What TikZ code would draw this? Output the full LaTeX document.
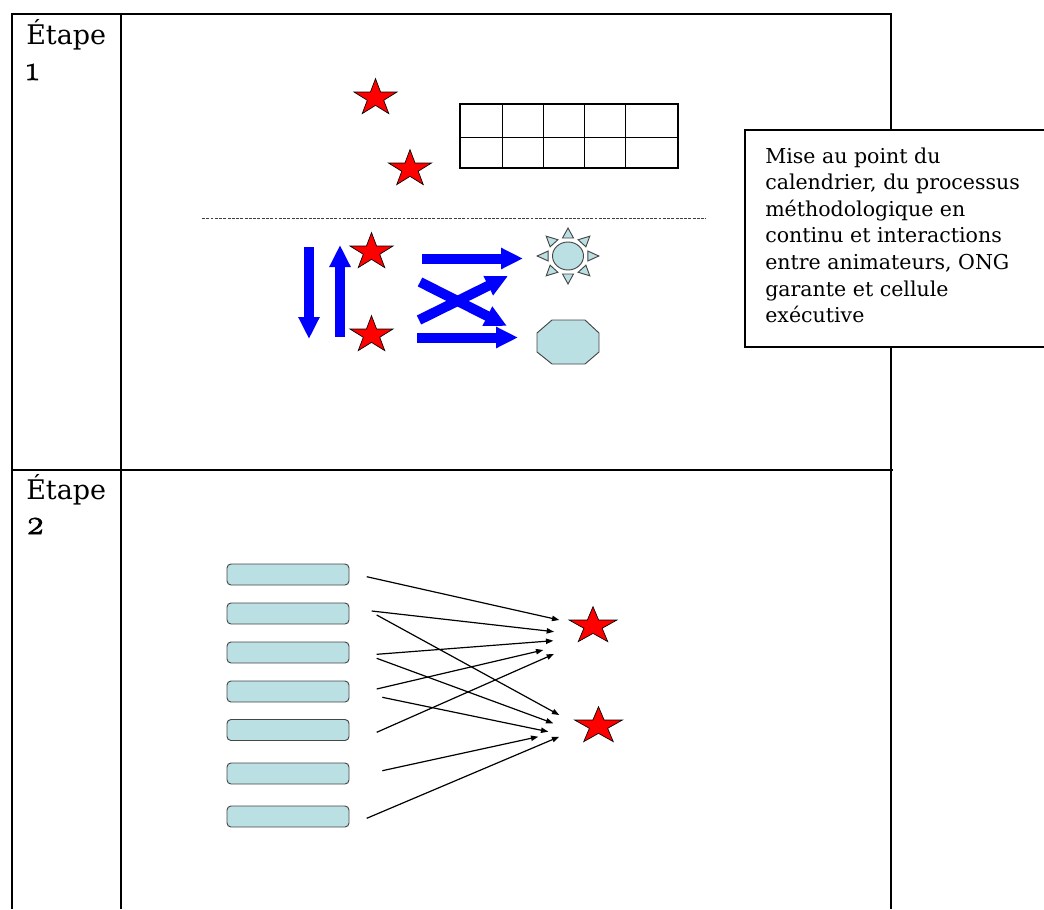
\documentclass[tikz,border=0pt]{standalone}
\usepackage{fontspec}
\setmainfont{DejaVu Serif}
\newfontfamily\osnum{Latin Modern Roman}[Numbers=OldStyle, FakeBold=2]
\usetikzlibrary{arrows.meta,shapes.geometric}
\definecolor{paleblue}{RGB}{187,224,227}
\definecolor{edgegray}{RGB}{70,70,70}
\definecolor{starred}{RGB}{255,0,0}
\definecolor{arrowblue}{RGB}{0,0,255}

\begin{document}
\begin{tikzpicture}[x=0.75pt,y=-0.75pt,
  rule/.style={line width=1.5pt},
  redstar/.style={star, star points=5, star point ratio=2.618, minimum size=29pt,
    inner sep=0pt, fill=starred, draw=black, line width=0.5pt, transform shape},
  fatarrow/.style={line width=7.5pt, draw=arrowblue, -{Triangle[length=16.5pt,width=15pt]}},
  pale/.style={fill=paleblue, draw=edgegray, line width=0.7pt},
  bar/.style={pale, rounded corners=3pt, minimum width=91.5pt, minimum height=15.75pt, inner sep=0pt},
  link/.style={line width=0.9pt, -{Triangle[length=5.5pt,width=4pt]}},
  steplabel/.style={anchor=base west, align=left, inner sep=0pt,
    font=\fontsize{20.25pt}{26.25pt}\selectfont},
  notetext/.style={anchor=base west, align=left, inner sep=0pt,
    font=\fontsize{15.4pt}{19.95pt}\selectfont},
]
\useasboundingbox (0,0) rectangle (1044,909);

% table frame
\draw[rule] (12,909) -- (12,14) -- (891,14) -- (891,909);
\draw[rule] (120.5,14) -- (120.5,909);
\draw[rule] (12,469.5) -- (893,469.5);

% step labels (base anchor sits on the last line)
\node[steplabel] (lab1) at (26,80) {Étape\\{\osnum\fontsize{26pt}{26.25pt}\selectfont 1}};
\node[steplabel] (lab2) at (26,534) {Étape\\{\osnum\fontsize{26pt}{26.25pt}\selectfont 2}};

% note box
\fill[white] (745,130) rectangle (1044,347);
\draw[line width=1.2pt] (1044,130) -- (745,130) -- (745,347) -- (1044,347);
\node[notetext] (note) at (765,322.7) {Mise au point du\\calendrier, du processus\\méthodologique en\\continu et interactions\\entre animateurs, ONG\\garante et cellule\\exécutive};

% step 1: stars
\begin{scope}[shift={(375.5,98)}, xscale=1.17]
  \node[redstar] (st1) at (0,0) {};
\end{scope}
\begin{scope}[shift={(410,169)}, xscale=1.17]
  \node[redstar] (st2) at (0,0) {};
\end{scope}
\begin{scope}[shift={(371.5,252)}, xscale=1.17]
  \node[redstar] (st3) at (0,0) {};
\end{scope}
\begin{scope}[shift={(371.5,335)}, xscale=1.17]
  \node[redstar] (st4) at (0,0) {};
\end{scope}

% step 1: grid
\draw[line width=0.6pt] (460,137) -- (678,137);
\foreach \cx in {502,543,584,625}
  \draw[line width=0.6pt] (\cx,104) -- (\cx,168);
\draw[line width=1.1pt] (460,104) rectangle (678,168);

% dashed separator
\draw[line width=0.6pt, draw=black!75, dash pattern=on 2.2pt off 1pt] (202,218.5) -- (706,218.5);

% step 1: blue arrows
\coordinate (da) at (309,247);   \coordinate (db) at (309,339);
\coordinate (ua) at (340,337);   \coordinate (ub) at (340,245);
\coordinate (ha) at (422,258.5); \coordinate (hb) at (523,258.5);
\coordinate (la) at (417,337.5); \coordinate (lb) at (518,337.5);
\coordinate (xa) at (420,282);   \coordinate (xb) at (507,326);
\coordinate (ya) at (419,320);   \coordinate (yb) at (508,276);
\draw[fatarrow] (da) -- (db);
\draw[fatarrow] (ua) -- (ub);
\draw[fatarrow] (ha) -- (hb);
\draw[fatarrow] (xa) -- (xb);
\draw[fatarrow] (ya) -- (yb);
\draw[fatarrow] (la) -- (lb);

% sun
\begin{scope}[shift={(568,256)}, xscale=1.1]
  \foreach \a in {0,45,...,315}
    \draw[pale, rotate=\a] (18,-5) -- (28,0) -- (18,5) -- cycle;
\end{scope}
\node[ellipse, pale, minimum width=23.25pt, minimum height=21pt, inner sep=0pt] (sun) at (568,256) {};

% octagon
\draw[pale] (537,333) -- (552,320) -- (585,320) -- (599,333) -- (599,352)
  -- (585,364) -- (552,364) -- (537,352) -- cycle;

% step 2: bars
\foreach \i/\cy in {1/574.5,2/613.5,3/652.5,4/691.5,5/730,6/773.5,7/816.5}
  \node[bar] (b\i) at (288,\cy) {};

% step 2: stars
\begin{scope}[shift={(593,626)}, xscale=1.3]
  \node[redstar] (tg1) at (0,0) {};
\end{scope}
\begin{scope}[shift={(598.5,726)}, xscale=1.3]
  \node[redstar] (tg2) at (0,0) {};
\end{scope}

% step 2: links
\foreach \i/\sx/\sy/\ex/\ey in {
  1/366.7/576.7/559.3/620,
  2/371.7/611/554/631.7,
  3/376.7/615/559.3/715,
  4/376.7/654.3/553.3/640.7,
  5/376.7/658.3/553.3/723.3,
  6/376.7/689/543.3/650,
  7/382.3/697.3/548.3/731.7,
  8/376.7/732.3/554/654,
  9/382.3/770.7/538.3/736.7,
  10/366.7/818.3/559.3/736.7} {
  \coordinate (ls\i) at (\sx,\sy);
  \coordinate (le\i) at (\ex,\ey);
  \draw[link] (ls\i) -- (le\i);
}
\end{tikzpicture}
\end{document}
